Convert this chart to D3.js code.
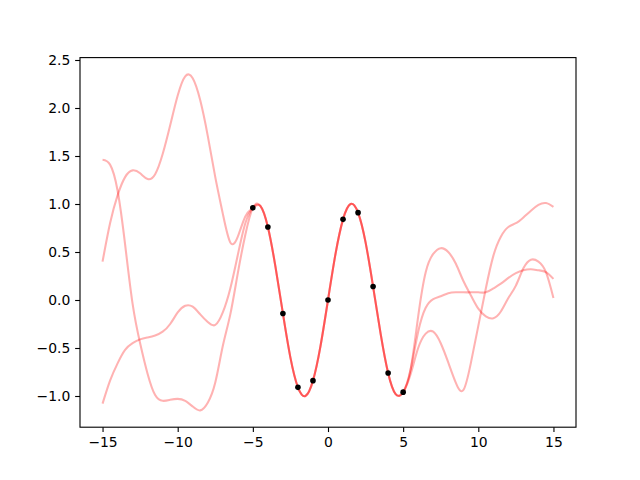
<!DOCTYPE html>
<html>
<head>
<meta charset="utf-8">
<script src="https://cdn.jsdelivr.net/npm/d3@7"></script>
<style>
  html, body { margin: 0; padding: 0; background: #fff; }
  svg { display: block; }
  text { font-family: "DejaVu Sans", sans-serif; font-size: 13.9px; fill: #000; }
</style>
</head>
<body>
<svg id="chart" width="640" height="480"></svg>
<script>
// x grid shared by the three sample curves
const xGrid = [-15,-14.5,-14,-13.5,-13,-12.5,-12,-11.5,-11,-10.5,-10,-9.5,-9,-8.5,-8,-7.5,-7,-6.5,-6,-5.5,
  -5,-4.5,-4,-3.5,-3,-2.5,-2,-1.5,-1,-0.5,0,0.5,1,1.5,2,2.5,3,3.5,4,4.5,
  5,5.5,6,6.5,7,7.5,8,8.5,9,9.5,10,10.5,11,11.5,12,12.5,13,13.5,14,14.5,15];

// sample curves
const sample1 = [1.46,1.41,1.14,0.58,-0.04,-0.45,-0.77,-0.99,-1.05,-1.04,-1.03,-1.05,-1.11,-1.15,-1.07,-0.86,-0.48,-0.15,0.28,0.68,
  0.96,0.98,0.76,0.35,-0.14,-0.60,-0.91,-1.00,-0.84,-0.48,0.00,0.48,0.84,1.00,0.91,0.60,0.14,-0.35,-0.76,-0.98,
  -0.96,-0.77,-0.50,-0.35,-0.33,-0.45,-0.65,-0.86,-0.94,-0.66,-0.27,0.12,0.46,0.66,0.76,0.80,0.86,0.93,0.99,1.01,0.97];
const sample2 = [0.40,0.80,1.09,1.28,1.35,1.32,1.26,1.31,1.52,1.82,2.13,2.33,2.31,2.08,1.71,1.28,0.90,0.60,0.66,0.87,
  0.96,0.98,0.76,0.35,-0.14,-0.60,-0.91,-1.00,-0.84,-0.48,0.00,0.48,0.84,1.00,0.91,0.60,0.14,-0.35,-0.76,-0.98,
  -0.96,-0.72,-0.17,0.29,0.48,0.54,0.50,0.38,0.20,0.05,-0.09,-0.17,-0.19,-0.12,0.02,0.15,0.33,0.42,0.40,0.29,0.02];
const sample3 = [-1.08,-0.84,-0.66,-0.52,-0.45,-0.41,-0.39,-0.37,-0.33,-0.25,-0.13,-0.06,-0.07,-0.15,-0.23,-0.26,-0.13,0.12,0.47,0.80,
  0.96,0.98,0.76,0.35,-0.14,-0.60,-0.91,-1.00,-0.84,-0.48,0.00,0.48,0.84,1.00,0.91,0.60,0.14,-0.35,-0.76,-0.98,
  -0.96,-0.72,-0.33,-0.08,0.01,0.04,0.07,0.08,0.08,0.08,0.08,0.08,0.12,0.17,0.23,0.28,0.31,0.32,0.31,0.29,0.22];

// observed points
const obsX = [-5,-4,-3,-2,-1,0,1,2,3,4,5];
const obsY = [0.96,0.76,-0.14,-0.91,-0.84,0.00,0.84,0.91,0.14,-0.76,-0.96];

const xTicks = [-15,-10,-5,0,5,10,15];
const yTicks = [-1.0,-0.5,0.0,0.5,1.0,1.5,2.0,2.5];

const svg = d3.select("#chart");
const L = 80, R = 576, T = 57.6, B = 427.2;

const x = d3.scaleLinear().domain([-16.5, 16.5]).range([L, R]);
const y = d3.scaleLinear().domain([-1.325, 2.525]).range([B, T]);

const line = d3.line()
  .x(d => x(d[0])).y(d => y(d[1]))
  .curve(d3.curveNatural);

[sample1, sample2, sample3].forEach(s => {
  svg.append("path")
    .datum(xGrid.map((xv, i) => [xv, s[i]]))
    .attr("d", line)
    .attr("fill", "none")
    .attr("stroke", "rgb(255,0,0)")
    .attr("stroke-opacity", 0.3)
    .attr("stroke-width", 2.08);
});

svg.append("g").selectAll("circle")
  .data(obsX.map((xv, i) => [xv, obsY[i]]))
  .join("circle")
  .attr("cx", d => x(d[0])).attr("cy", d => y(d[1]))
  .attr("r", 2.8).attr("fill", "#000");

const fmtY = v => d3.format(".1f")(v).replace("-", "\u2212");
const fmtX = v => String(v).replace("-", "\u2212");

const xAxis = d3.axisBottom(x).tickValues(xTicks).tickSize(4.86).tickPadding(4.86).tickFormat(fmtX);
const yAxis = d3.axisLeft(y).tickValues(yTicks).tickSize(4.86).tickPadding(4.86).tickFormat(fmtY);

const gx = svg.append("g").attr("transform", `translate(0,${B})`).call(xAxis);
const gy = svg.append("g").attr("transform", `translate(${L},0)`).call(yAxis);
[gx, gy].forEach(g => {
  g.select(".domain").remove();
  g.selectAll(".tick line").attr("stroke", "#000").attr("stroke-width", 1.11);
  g.selectAll(".tick text").attr("font-family", "DejaVu Sans, sans-serif").attr("font-size", 13.9).attr("fill", "#000");
});

svg.append("rect")
  .attr("x", L).attr("y", T).attr("width", R - L).attr("height", B - T)
  .attr("fill", "none").attr("stroke", "#000").attr("stroke-width", 1.11);
</script>
</body>
</html>
